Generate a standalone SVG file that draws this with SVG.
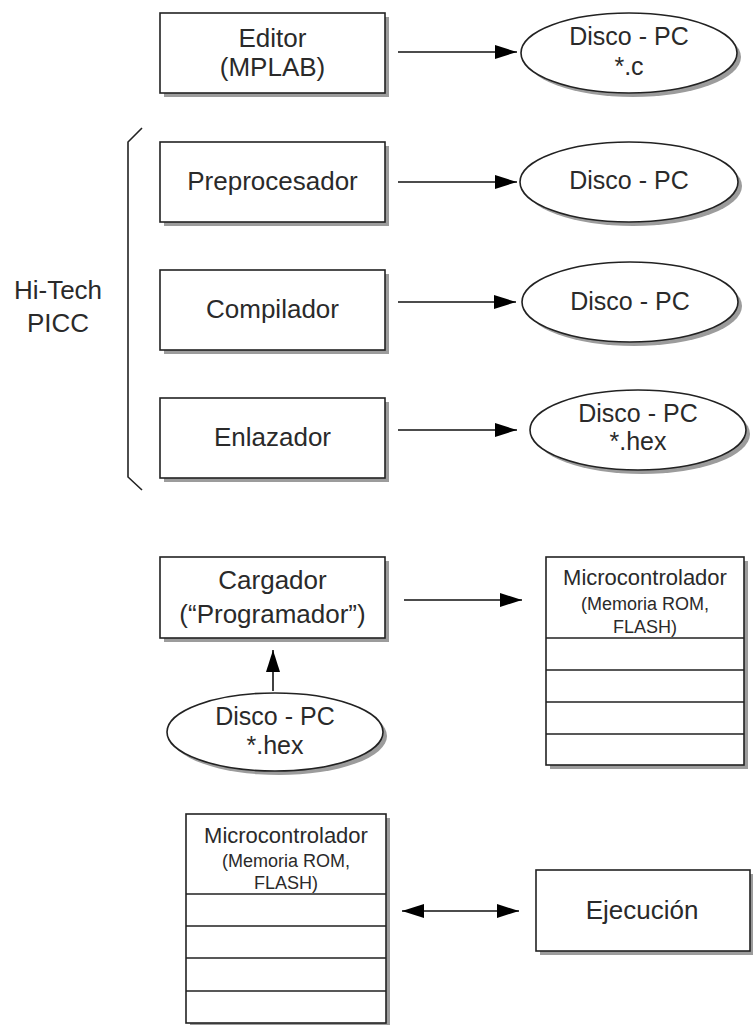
<svg xmlns="http://www.w3.org/2000/svg" width="753" height="1025" viewBox="0 0 753 1025">
<defs>
<marker id="ah" markerWidth="22" markerHeight="14" refX="22" refY="7" orient="auto-start-reverse" markerUnits="userSpaceOnUse">
<path d="M0,0 L22,7 L0,14 Z" fill="#000"/>
</marker>
</defs>
<style>
.box{fill:#fff;stroke:#222;stroke-width:1.6}
.sh{fill:#9c9c9c;stroke:none}
.t{font-family:"Liberation Sans",Arial,sans-serif;font-size:26px;fill:#2a2a2a;text-anchor:middle}
.te{font-family:"Liberation Sans",Arial,sans-serif;font-size:25px;fill:#2a2a2a;text-anchor:middle}
.tm{font-family:"Liberation Sans",Arial,sans-serif;font-size:22px;fill:#2a2a2a;text-anchor:middle}
.ts{font-family:"Liberation Sans",Arial,sans-serif;font-size:18px;fill:#2a2a2a;text-anchor:middle}
.ln{stroke:#222;stroke-width:1.6;fill:none}
.c{stroke:#111;stroke-width:1.6;fill:none;marker-end:url(#ah)}
</style>

<g id="bracket">
<path class="ln" d="M142,128 L128,142 L128,477 L142,490"/>
<text class="t" x="58" y="299">Hi-Tech</text>
<text class="t" x="58" y="332">PICC</text>
</g>

<g id="editor">
<rect class="sh" x="164" y="17" width="225" height="80"/>
<rect class="box" x="160" y="13" width="225" height="80"/>
<text class="t" x="272.5" y="47">Editor</text>
<text class="t" x="272.5" y="76">(MPLAB)</text>
</g>
<g id="disco1">
<ellipse class="sh" cx="633" cy="57" rx="108" ry="40"/>
<ellipse class="box" cx="629" cy="53" rx="108" ry="40"/>
<text class="te" x="629" y="45">Disco - PC</text>
<text class="te" x="629" y="75">*.c</text>
</g>

<g id="preprocesador">
<rect class="sh" x="164" y="146" width="225" height="80"/>
<rect class="box" x="160" y="142" width="225" height="80"/>
<text class="t" x="272.5" y="190">Preprocesador</text>
</g>
<g id="disco2">
<ellipse class="sh" cx="633" cy="186" rx="109" ry="40"/>
<ellipse class="box" cx="629" cy="182" rx="109" ry="40"/>
<text class="te" x="629" y="189">Disco - PC</text>
</g>

<g id="compilador">
<rect class="sh" x="164" y="274" width="225" height="80"/>
<rect class="box" x="160" y="270" width="225" height="80"/>
<text class="t" x="272.5" y="318">Compilador</text>
</g>
<g id="disco3">
<ellipse class="sh" cx="634" cy="306" rx="108" ry="40"/>
<ellipse class="box" cx="630" cy="302" rx="108" ry="40"/>
<text class="te" x="630" y="310">Disco - PC</text>
</g>

<g id="enlazador">
<rect class="sh" x="164" y="402" width="225" height="80"/>
<rect class="box" x="160" y="398" width="225" height="80"/>
<text class="t" x="272.5" y="446">Enlazador</text>
</g>
<g id="disco4">
<ellipse class="sh" cx="642" cy="434" rx="108" ry="40"/>
<ellipse class="box" cx="638" cy="430" rx="108" ry="40"/>
<text class="te" x="638" y="422">Disco - PC</text>
<text class="te" x="638" y="450">*.hex</text>
</g>

<g id="cargador">
<rect class="sh" x="164" y="561" width="225" height="81"/>
<rect class="box" x="160" y="557" width="225" height="81"/>
<text class="t" x="272.5" y="589">Cargador</text>
<text class="t" x="272.5" y="623">(“Programador”)</text>
</g>
<g id="disco5">
<ellipse class="sh" cx="279" cy="736" rx="108" ry="39"/>
<ellipse class="box" cx="275" cy="732" rx="108" ry="39"/>
<text class="te" x="275" y="725">Disco - PC</text>
<text class="te" x="275" y="754">*.hex</text>
</g>

<g id="micro1">
<rect class="sh" x="550" y="561" width="198" height="208"/>
<rect class="box" x="546" y="557" width="198" height="208"/>
<path class="ln" d="M546,638 H744 M546,670 H744 M546,702 H744 M546,734 H744"/>
<text class="tm" x="645" y="585">Microcontrolador</text>
<text class="ts" x="645" y="610">(Memoria ROM,</text>
<text class="ts" x="645" y="633">FLASH)</text>
</g>

<g id="micro2">
<rect class="sh" x="190" y="818" width="200" height="209"/>
<rect class="box" x="186" y="814" width="200" height="209"/>
<path class="ln" d="M186,894 H386 M186,926 H386 M186,958 H386 M186,991 H386"/>
<text class="tm" x="286" y="843">Microcontrolador</text>
<text class="ts" x="286" y="867">(Memoria ROM,</text>
<text class="ts" x="286" y="889">FLASH)</text>
</g>

<g id="ejecucion">
<rect class="sh" x="540" y="874" width="215" height="81"/>
<rect class="box" x="536" y="870" width="214" height="81"/>
<text class="t" x="642" y="919">Ejecución</text>
</g>

<g id="connectors">
<line class="c" x1="398" y1="52" x2="517" y2="52"/>
<line class="c" x1="398" y1="182" x2="517" y2="182"/>
<line class="c" x1="398" y1="302" x2="516" y2="302"/>
<line class="c" x1="398" y1="430" x2="517" y2="430"/>
<line class="c" x1="404" y1="600" x2="522" y2="600"/>
<line class="c" x1="273" y1="691" x2="273" y2="650"/>
<line class="c" x1="402" y1="911" x2="519" y2="911" style="marker-start:url(#ah)"/>
</g>
</svg>
